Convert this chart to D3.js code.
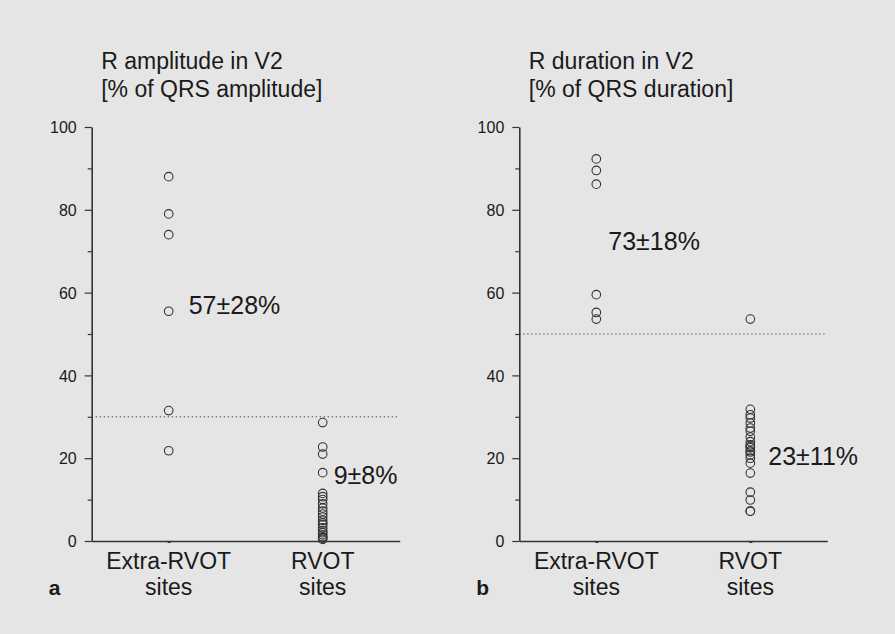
<!DOCTYPE html>
<html><head><meta charset="utf-8">
<script src="https://cdn.jsdelivr.net/npm/d3@7"></script>
<style>
html,body{margin:0;padding:0;background:#fff;}
svg{display:block;font-family:"Liberation Sans",Arial,Helvetica,sans-serif;}
</style></head>
<body>
<svg id="chart" width="895" height="634"></svg>
<script>
const categories = ["Extra-RVOT", "RVOT"];
const categoryLines = [["Extra-RVOT", "sites"], ["RVOT", "sites"]];
const yTicksMajor = [0, 20, 40, 60, 80, 100];
const yTicksMinor = [10, 30, 50, 70, 90];

// Panel a: R amplitude in V2 [% of QRS amplitude]
const ampExtra = [88, 79, 74, 55.5, 31.5, 21.8];
const ampRvot = [28.6, 22.7, 21, 16.5, 11.5, 10.7, 10, 9, 8, 7.2, 6.5, 5.8, 5, 4.4, 4, 3.2, 2.5, 2, 1.5, 1, 0.8, 0.4];
// Panel b: R duration in V2 [% of QRS duration]
const durExtra = [92.3, 89.5, 86.2, 59.5, 55.2, 53.6];
const durRvot = [53.6, 31.8, 30.5, 29.7, 28.5, 27.3, 26.5, 25.1, 24, 23.2, 22.8, 22.5, 21.8, 21.5, 20.8, 20, 18.8, 16.4, 11.8, 9.9, 7.2, 7.2];

const panels = [
  {letter: "a", title: ["R amplitude in V2", "[% of QRS amplitude]"], extra: ampExtra, rvot: ampRvot,
   threshold: 30, stats: ["57±28%", "9±8%"], statPos: [[57, 20], [16, 11]]},
  {letter: "b", title: ["R duration in V2", "[% of QRS duration]"], extra: durExtra, rvot: durRvot,
   threshold: 50, stats: ["73±18%", "23±11%"], statPos: [[72.5, 12], [20.5, 18]]}
];

const svg = d3.select("#chart");
svg.append("rect").attr("x", 0).attr("y", 0).attr("width", 895).attr("height", 634).attr("fill", "#e5e5e5");

const origins = [91.7, 519.3];
const plotW = 308, plotTop = 127, plotBottom = 541;
const ink = "#1a1a1a";

panels.forEach((p, i) => {
  const g = svg.append("g").attr("transform", `translate(${origins[i]},0)`);
  const y = d3.scaleLinear().domain([0, 100]).range([plotBottom, plotTop]);
  const x = d3.scalePoint().domain(categories).range([0, plotW]).padding(0.5);

  // titles
  const t = g.append("text").attr("x", 9.5).attr("y", 69).attr("fill", ink).style("font-size", "23px");
  t.append("tspan").attr("x", 9.5).text(p.title[0]);
  t.append("tspan").attr("x", 9.5).attr("dy", 28).text(p.title[1]);

  // y axis major
  const ax = g.append("g").call(d3.axisLeft(y).tickValues(yTicksMajor).tickSize(7).tickPadding(8).tickSizeOuter(0));
  ax.selectAll("text").attr("fill", ink).style("font-size", "16px").attr("dy", "0.36em");
  ax.selectAll("line").attr("stroke", "#333").attr("stroke-width", 1.2);
  ax.select(".domain").attr("stroke", "#333").attr("stroke-width", 1.6);
  const axm = g.append("g").call(d3.axisLeft(y).tickValues(yTicksMinor).tickSize(4).tickFormat("").tickSizeOuter(0));
  axm.select(".domain").remove();
  axm.selectAll("line").attr("stroke", "#333").attr("stroke-width", 1.2);

  // x axis
  const xa = g.append("g").attr("transform", `translate(0,${plotBottom})`)
    .call(d3.axisBottom(x).tickSize(2).tickSizeOuter(0).tickFormat(""));
  xa.select(".domain").attr("stroke", "#333").attr("stroke-width", 1.6);
  xa.selectAll("line").attr("stroke", "#333").attr("stroke-width", 3);

  // category labels
  categories.forEach((c, k) => {
    const tx = g.append("text").attr("x", x(c)).attr("y", 569).attr("text-anchor", "middle")
      .attr("fill", ink).style("font-size", "23px");
    tx.append("tspan").attr("x", x(c)).text(categoryLines[k][0]);
    tx.append("tspan").attr("x", x(c)).attr("dy", 26).text(categoryLines[k][1]);
  });

  // panel letter
  svg.append("text").attr("x", origins[i] - 43).attr("y", 595).attr("fill", ink)
    .style("font-size", "21px").style("font-weight", "bold").text(p.letter);

  // threshold dotted line
  g.append("line").attr("x1", 0).attr("x2", plotW).attr("y1", y(p.threshold)).attr("y2", y(p.threshold))
    .attr("stroke", "#333").attr("stroke-width", 1).attr("stroke-dasharray", "1.2,2.8");

  // points
  const data = p.extra.map(v => ({c: categories[0], v})).concat(p.rvot.map(v => ({c: categories[1], v})));
  g.selectAll("circle.pt").data(data).join("circle").attr("class", "pt")
    .attr("cx", d => x(d.c)).attr("cy", d => y(d.v)).attr("r", 4.3)
    .attr("fill", "none").attr("stroke", "#333").attr("stroke-width", 1.1);

  // stats text
  p.stats.forEach((s, k) => {
    g.append("text").attr("x", x(categories[k]) + p.statPos[k][1]).attr("y", y(p.statPos[k][0]) + 9)
      .attr("fill", ink).style("font-size", "25px").text(s);
  });
});
</script>
</body></html>
